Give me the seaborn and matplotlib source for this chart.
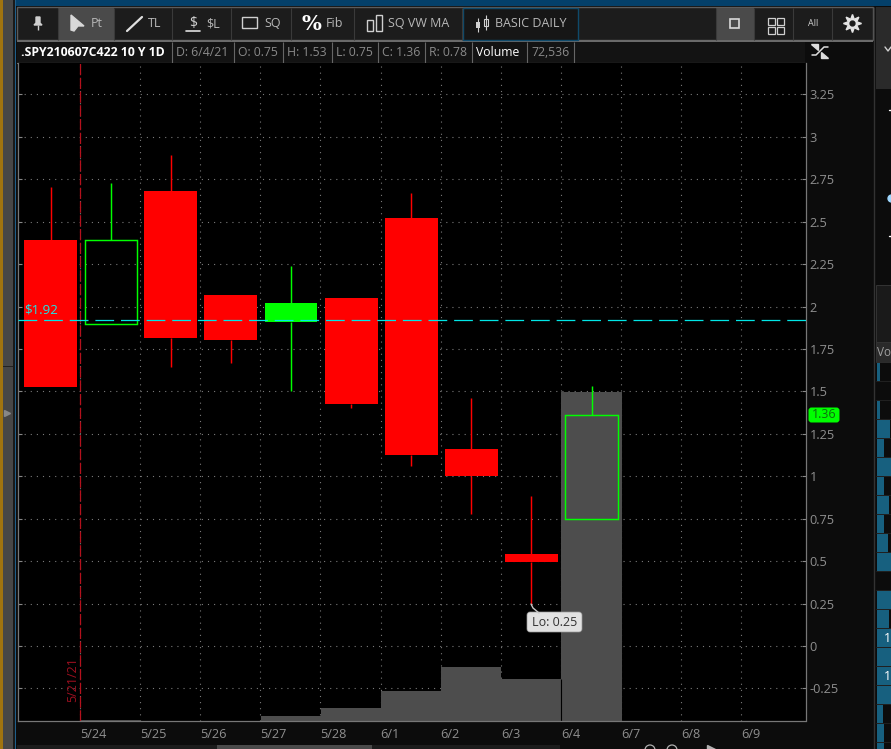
import numpy as np
import pandas as pd
import matplotlib
matplotlib.use("Agg")
import matplotlib.pyplot as plt
from matplotlib.patches import Rectangle, FancyBboxPatch
import seaborn as sns

# ---------- data ----------
opens  = [2.39, 1.90, 2.68, 2.07, 1.91, 2.05, 2.52, 1.16, 0.54, 0.75]
closes = [1.525, 2.39, 1.815, 1.80, 2.02, 1.425, 1.125, 1.00, 0.495, 1.36]
highs  = [2.705, 2.73, 2.89, 2.07, 2.24, 2.05, 2.67, 1.46, 0.885, 1.53]
lows   = [1.525, 1.90, 1.645, 1.67, 1.50, 1.40, 1.06, 0.78, 0.25, 0.75]
hollow = [False, True, False, False, False, False, False, False, False, True]
volume = [0, 220, 0, 0, 1100, 2870, 6600, 11900, 9260, 72536]
date_labels = ["5/24", "5/25", "5/26", "5/27", "5/28", "6/1", "6/2", "6/3", "6/4", "6/7", "6/8", "6/9"]
price_ticks = [-0.25, 0, 0.25, 0.5, 0.75, 1, 1.25, 1.5, 1.75, 2, 2.25, 2.5, 2.75, 3, 3.25]
price_labels = ["-0.25", "0", "0.25", "0.5", "0.75", "1", "1.25", "1.5", "1.75", "2", "2.25", "2.5", "2.75", "3", "3.25"]
ref_price = 1.92
split_pos = 0.49
side_volume_px = [3, 0, 3, 13, 7, 15, 7, 12, 7, 11, 15, 0, 15, 12, 15, 15, 15, 15, 6, 7, 7]

sns.set_theme(style="dark", rc={"figure.facecolor": "#0c0c0c", "axes.facecolor": "black"})
plt.rcParams["font.family"] = ["Open Sans", "DejaVu Sans"]

W, H = 891, 749
fig = plt.figure(figsize=(W / 100, H / 100), dpi=100, facecolor="#0c0c0c")
L, R, T, B = 17.5, 805.5, 63, 721
pos = [L / W, 1 - B / H, (R - L) / W, (B - T) / H]
YLIM = (-0.442, 3.435)
XLIM = (-0.55, 12.56)
VMAX = 145072

def overlay(z):
    a = fig.add_axes([0, 0, 1, 1], zorder=z)
    a.set_xlim(0, W); a.set_ylim(H, 0); a.axis("off")
    a.patch.set_alpha(0)
    return a

bg = overlay(0)
fg = overlay(10)

def rect(a, x0, y0, x1, y1, fc="none", ec="none", lw=1):
    a.add_patch(Rectangle((x0, y0), x1 - x0, y1 - y0, fc=fc, ec=ec, lw=lw))

def vl(a, x, y0, y1, c="#3a3a3a", lw=0.8):
    a.plot([x, x], [y0, y1], color=c, lw=lw, solid_capstyle="butt")

# window chrome
rect(bg, 0, 0, 3, H, fc="#a07410")
rect(bg, 3, 0, 13, H, fc="#474747")
rect(bg, 13, 0, 15, H, fc="#1a1a1a")
rect(bg, 15, 0, 16, H, fc="#1f5f8a")
rect(bg, 16, 0, W, 6, fc="#04406a")
rect(bg, 17, 7, 873, 40, fc="#1c1c1c", ec="#5c5c5c", lw=1)
rect(bg, 17, 40, 873, 41.5, fc="#6a6a6a")
rect(bg, 58, 8, 114, 40, fc="#4a4a4a")
rect(bg, 716, 8, 754, 40, fc="#4a4a4a")
for x in [58, 114, 172, 231, 291, 354, 462, 716, 754, 793, 832]:
    vl(bg, x, 8, 40)
rect(bg, 463, 8, 578, 40, fc="#161616", ec="#0f4a6b", lw=1)
# left drag dots
rect(bg, 3, 366, 13, 367, fc="#222222")
fg.plot([7], [413], marker=">", ms=4, color="#888888")

# header row
rect(bg, 17, 42, 805, 63, fc="#131313")
bg.plot([17, 805], [63, 63], color="#777777", lw=0.8)
for x in [172, 234, 283, 332, 378, 425, 472, 527, 574]:
    vl(bg, x, 42, 63, c="#666666")
hdr = [(21, ".SPY210607C422 10 Y 1D", "white", "bold"), (176, "D: 6/4/21", "#8a8a8a", "normal"),
       (238, "O: 0.75", "#8a8a8a", "normal"), (287, "H: 1.53", "#8a8a8a", "normal"),
       (336, "L: 0.75", "#8a8a8a", "normal"), (382, "C: 1.36", "#8a8a8a", "normal"),
       (429, "R: 0.78", "#8a8a8a", "normal"), (476, "Volume", "white", "normal"),
       (531, "72,536", "#8a8a8a", "normal")]
for x, s, c, w in hdr:
    bg.text(x, 52.5, s, color=c, fontsize=8.8, fontweight=w, va="center", ha="left")

# toolbar labels
for x, s in [(91, "Pt"), (148, "TL"), (206, "$L"), (264, "SQ"), (326, "Fib"), (388, "SQ VW MA"), (495, "BASIC DAILY")]:
    bg.text(x, 23.5, s, color="#b8b8b8", fontsize=9, va="center", ha="left")
# toolbar icons
bg.fill([36, 40, 40, 42, 34, 36], [17, 17, 23, 25, 25, 23], color="#cfcfcf")
vl(bg, 38, 25, 30, c="#cfcfcf", lw=1)
bg.fill([71, 84, 78, 74, 71], [15, 26, 26, 31, 30], color="#d8d8d8")
bg.plot([127, 142], [31, 17], color="#e0e0e0", lw=1.6)
bg.text(193, 23, "$", color="#d0d0d0", fontsize=10, ha="center", va="center")
bg.plot([186, 200], [31, 31], color="#e0e0e0", lw=1.2)
rect(bg, 242, 17, 257, 28, ec="#cfcfcf", lw=1)
bg.text(311, 24, "%", color="white", fontsize=15, fontweight="bold", family="DejaVu Serif", ha="center", va="center")
for x0, y0 in [(367, 20), (376, 15)]:
    rect(bg, x0, y0, x0 + 6, 31, ec="#cfcfcf", lw=1)
rect(bg, 476, 22, 480, 28, fc="#d0d0d0")
vl(bg, 478, 18, 32, c="#d0d0d0", lw=0.8)
rect(bg, 484, 19, 488, 26, ec="#d0d0d0", lw=0.8)
vl(bg, 486, 15, 30, c="#d0d0d0", lw=0.8)
rect(bg, 730, 19, 739, 28, ec="#d8d8d8", lw=1.2)
for dx in (0, 9):
    for dy in (0, 9):
        rect(bg, 768 + dx, 18 + dy, 775 + dx, 25 + dy, ec="#cfcfcf", lw=0.9)
bg.text(813, 23, "All", color="#d0d0d0", fontsize=6.5, ha="center", va="center")
bg.plot([852], [23], marker=(8, 1, 0), ms=13, color="#e4e4e4")
bg.plot([852], [23], marker="o", ms=3.5, color="#1c1c1c")

# expand icon at top of scale
fg.plot([812, 816, 820, 824, 828], [55, 55, 51, 47, 47], color="#dddddd", lw=1.1)
fg.fill([811, 818, 818], [44, 44, 50], color="#dddddd")
fg.fill([828, 821, 821], [58, 58, 52], color="#dddddd")

# right-side panel
vl(bg, 874, 7, H, c="#333333", lw=1)
rect(bg, 876, 7, W, 89, fc="#2a2a2a")
rect(bg, 876, 285, W, 342, fc="#1a1a1a", ec="#333333", lw=0.7)
rect(bg, 876, 342, W, 362, fc="#2a2a2a", ec="#333333", lw=0.7)
bg.text(877, 352, "Vo", color="#a0a0a0", fontsize=8.5, va="center", ha="left")
bg.plot([889, 891], [110, 110], color="white", lw=1)
bg.plot([889, 891], [236, 236], color="white", lw=1)
bg.plot([891], [198], marker="o", ms=5, color="#9fd8ff")
bg.plot([885, 888, 891], [47, 51, 47], color="#d0d0d0", lw=1)
for i, wd in enumerate(side_volume_px):
    y = 362.3 + 19 * i
    if wd:
        rect(bg, 876.5, y + 0.6, 876.5 + wd, y + 18.4, fc="#17607f")
    bg.plot([876, W], [y, y], color="#2a2a2a", lw=0.5)
bg.text(884, 638, "1", color="white", fontsize=9, va="center")
bg.text(884, 676, "1", color="white", fontsize=9, va="center")

# scrollbar and bottom widgets
rect(bg, 17, 745, 560, H, fc="#1c1c1c")
rect(bg, 217, 745, 372, H, fc="#4a4a4a")
for x in [650, 672]:
    bg.add_patch(plt.Circle((x, 750), 5, fc="none", ec="#b0b0b0", lw=0.9))
bg.fill([707, 707, 715], [745, H, H], color="#b0b0b0")

# ---------- grid axes ----------
x_ticks = [split_pos + i * 1.0 for i in range(len(date_labels))]

ax_grid = fig.add_axes(pos, zorder=1, facecolor="black")
ax_grid.set_xlim(XLIM); ax_grid.set_ylim(YLIM)
ax_grid.set_xticks(x_ticks); ax_grid.set_yticks(price_ticks)
ax_grid.tick_params(length=0, labelleft=False, labelbottom=False)
ax_grid.grid(True, color="#7a7a7a", linestyle=(0, (1, 4.5)), linewidth=0.8)
for s in ax_grid.spines.values():
    s.set_visible(False)

# ---------- volume ----------
ax_vol = fig.add_axes(pos, zorder=2)
ax_vol.patch.set_alpha(0)
vol_df = pd.DataFrame({"idx": np.arange(len(volume)), "volume": volume})
sns.barplot(data=vol_df, x="idx", y="volume", native_scale=True, width=1, color="#4d4d4d",
            saturation=1, ax=ax_vol, edgecolor="none", linewidth=0)
ax_vol.set_xlim(XLIM); ax_vol.set_ylim(0, VMAX)
ax_vol.axis("off")
ax_vol.vlines(8.5, 0, volume[8], color="black", lw=0.8, snap=True)

# ---------- candles ----------
ax = fig.add_axes(pos, zorder=3)
ax.patch.set_alpha(0)
ax.set_xlim(XLIM); ax.set_ylim(YLIM)
RED, GREEN = "#ff0000", "#00ff00"
bw = 0.88
for i, (o, c, h, l, hol) in enumerate(zip(opens, closes, highs, lows, hollow)):
    col = GREEN if c >= o else RED
    top, bot = max(o, c), min(o, c)
    ax.vlines(i, top, h, color=col, lw=1.05, snap=True)
    ax.vlines(i, l, bot, color=col, lw=1.05, snap=True)
    if hol:
        ax.bar(i, top - bot, bottom=bot, width=bw - 0.01, facecolor="none", edgecolor=col, linewidth=1.05, snap=True)
    else:
        ax.bar(i, top - bot, bottom=bot, width=bw, color=col, linewidth=0)

ax.axhline(ref_price, color="#00e6e6", lw=0.9, linestyle=(0, (15, 5.5)), zorder=4)
ax.axvline(split_pos, color="#b5101c", lw=0.9, linestyle=(0, (9, 2)), zorder=1)
ax.text(-0.435, ref_price + 0.02, "$1.92", color="#19e8e8", fontsize=9.5, va="bottom", ha="left", zorder=5)
ax.text(split_pos - 0.01, -0.2, "5/21/21", color="#a01020", fontsize=9, rotation=90, ha="right", va="center")

ax.yaxis.tick_right()
ax.set_yticks(price_ticks, price_labels)
ax.set_xticks(x_ticks, date_labels, ha="left")
ax.tick_params(axis="y", which="both", direction="in", length=3, width=0.8, color="#888888", left=True, right=True,
               labelleft=False, labelright=True, labelcolor="#8f8f8f", labelsize=9.2, pad=3)
ax.tick_params(axis="x", direction="in", length=3, width=0.8, color="#888888", labelcolor="#8f8f8f", labelsize=9.2, pad=5)
ax.grid(False)
for name, s in ax.spines.items():
    s.set_visible(name != "top")
    s.set_color("#777777"); s.set_linewidth(0.9)
ax.set_xlabel(""); ax.set_ylabel("")

# ---------- overlays ----------
fg.add_patch(FancyBboxPatch((810, 409), 28, 12, boxstyle="round,pad=1.5,rounding_size=3", fc="#00ff00", ec="none"))
fg.text(824, 415, "1.36", color="#0f6a0f", fontsize=9, ha="center", va="center")
fg.plot([531, 533, 539], [604, 608, 613], color="#c8c8c8", lw=1)
fg.add_patch(FancyBboxPatch((529, 614), 51, 16, boxstyle="round,pad=2,rounding_size=3", fc="#e2e2e2", ec="#999999", lw=0.5))
fg.text(554.5, 622.5, "Lo: 0.25", color="#333333", fontsize=9, ha="center", va="center")

fig.savefig("out.png", dpi=100, facecolor=fig.get_facecolor())
